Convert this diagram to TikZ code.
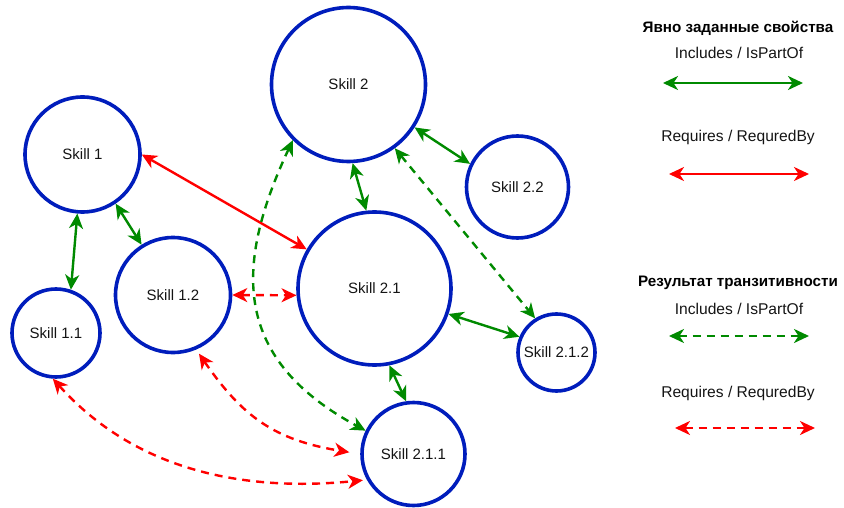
\documentclass[tikz,border=0pt]{standalone}
\usepackage{fontspec}
\setmainfont{Liberation Sans}
\usetikzlibrary{arrows.meta}
\definecolor{skillblue}{HTML}{001DBC}
\definecolor{incgreen}{HTML}{008A00}
\definecolor{reqred}{HTML}{FF0000}
\definecolor{txt}{HTML}{141414}

\begin{document}
\begin{tikzpicture}[x=1pt,y=-1pt,
  skill/.style={circle, draw=skillblue, line width=3.6pt, inner sep=0pt,
    minimum size=#1, font=\fontsize{15}{18}\selectfont, text=txt},
  tip/.tip={Stealth[length=15pt,width=14pt,inset=4.5pt]},
  link/.style={line width=2.4pt, tip-tip},
  inc/.style={link, draw=incgreen},
  req/.style={link, draw=reqred},
  trans/.style={dash pattern=on 8pt off 6pt},
  legtitle/.style={font=\bfseries\fontsize{15.2}{18}\selectfont, text=black},
  legtext/.style={font=\fontsize{15.6}{19}\selectfont, text=txt}]

\useasboundingbox (0,0) rectangle (844,508);

% skills
\node[skill=115] (s1)   at (82.5,154.5) {Skill 1};
\node[skill=88]  (s11)  at (56,333)     {Skill 1.1};
\node[skill=115] (s12)  at (173,295)    {Skill 1.2};
\node[skill=154] (s2)   at (348.5,84.5) {Skill 2};
\node[skill=102] (s22)  at (517.5,187)  {Skill 2.2};
\node[skill=153] (s21)  at (374.5,288.5){Skill 2.1};
\node[skill=77]  (s212) at (556.5,352.5){Skill 2.1.2};
\node[skill=103] (s211) at (413.5,454)  {Skill 2.1.1};

% explicit Includes / IsPartOf
\draw[inc] (s1.265) -- (s11.71);
\draw[inc] (s1.304) -- (s12.122);
\draw[inc] (s2.327) -- (s22.154);
\draw[inc] (s2.273) -- (s21.96);
\draw[inc] (s21.341) -- (s212.157);
\draw[inc] (s21.281) -- (s211.98);

% explicit Requires / RequredBy
\draw[req] (s1.0) -- (s21.150);

% transitive Includes / IsPartOf
\draw[inc,trans] (s2.225) .. controls (232,270) and (235,360) .. (s211.154);
\draw[inc,trans] (s2.306) -- (s212.122);

% transitive Requires / RequredBy
\draw[req,trans] (s12.0) -- (s21.185);
\draw[req,trans,shorten <=5pt,shorten >=11pt] (s12.293) .. controls (242,416) and (274,440) .. (s211.180);
\draw[req,trans,shorten >=4pt] (s11.266) .. controls (136,471) and (244,492) .. (s211.209);

% legend
\node[legtitle] (t1) at (738,28) {Явно заданные свойства};
\node[legtext] (l1) at (739,53) {Includes / IsPartOf};
\coordinate (a1) at (663,83);  \coordinate (b1) at (803,83);
\draw[inc] (a1) -- (b1);
\node[legtext] (l2) at (738,137) {Requires / RequredBy};
\coordinate (a2) at (669,174); \coordinate (b2) at (809,174);
\draw[req] (a2) -- (b2);

\node[legtitle] (t2) at (738,283) {Результат транзитивности};
\node[legtext] (l3) at (739,309) {Includes / IsPartOf};
\coordinate (a3) at (669,336); \coordinate (b3) at (809,336);
\draw[inc,trans] (a3) -- (b3);
\node[legtext] (l4) at (738,393) {Requires / RequredBy};
\coordinate (a4) at (675,428); \coordinate (b4) at (815,428);
\draw[req,trans] (a4) -- (b4);
\end{tikzpicture}
\end{document}
